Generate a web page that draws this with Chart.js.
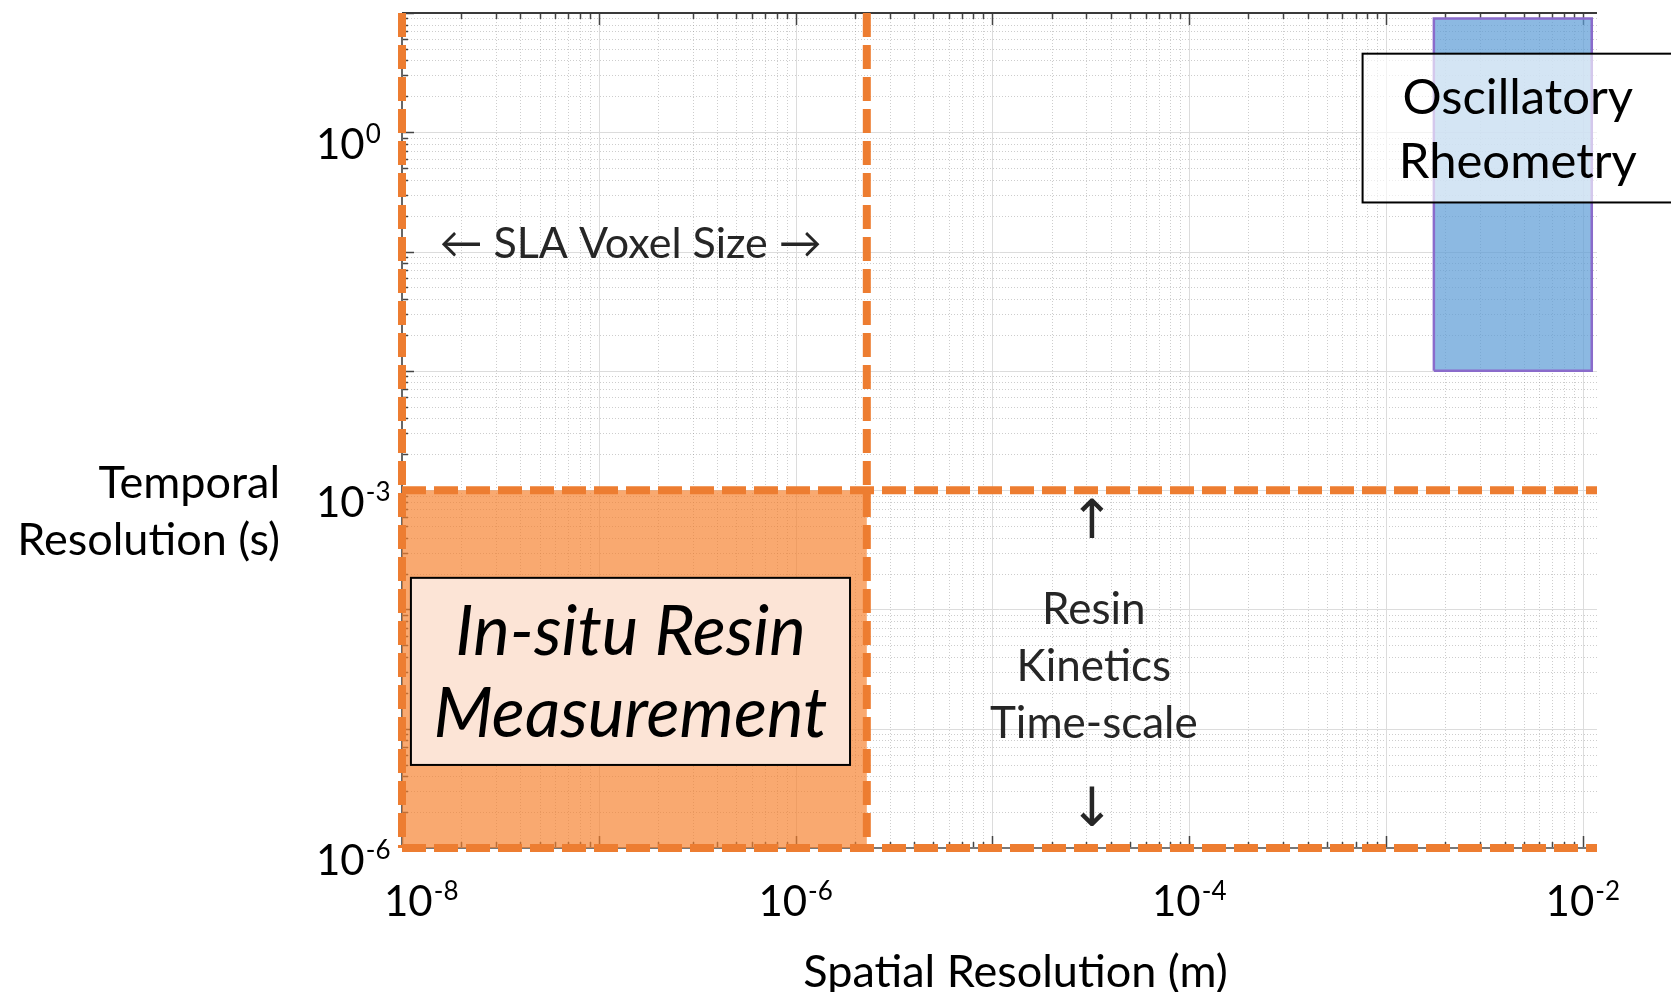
<!DOCTYPE html>
<html>
<head>
<meta charset="utf-8">
<title>Spatial vs temporal resolution</title>
<script src="https://cdn.jsdelivr.net/npm/chart.js@4.4.1/dist/chart.umd.min.js"></script>
<style>
  html, body { margin: 0; padding: 0; background: #fff; overflow: hidden; }
  #wrap { width: 1671px; height: 992px; position: relative; }
</style>
</head>
<body>
<div id="wrap"><canvas id="resChart" width="1671" height="992"></canvas></div>
<script>
// axis ranges (log scales)
const xRange = [1e-8, 0.0118];
const yRange = [1e-6, 10];

// grid decades and the in-between multipliers for the dotted minor grid
const xDecades = [1e-8, 1e-7, 1e-6, 1e-5, 1e-4, 1e-3, 1e-2];
const yDecades = [1e-6, 1e-5, 1e-4, 1e-3, 1e-2, 1e-1, 1e0, 1e1];
const minorSteps = [2, 3, 4, 5, 6, 7, 8, 9];

// labelled ticks
const xTickValues = [1e-8, 1e-6, 1e-4, 1e-2];
const xTickExponents = ['-8', '-6', '-4', '-2'];
const yTickValues = [1e0, 1e-3, 1e-6];
const yTickExponents = ['0', '-3', '-6'];

// regions
const insituX = [1e-8, 2.3e-6];
const insituY = [1e-6, 1e-3];
const rheoX = [1.75e-3, 0.0111];
const rheoY = [0.01, 9];

// dashed limits
const voxelLimits = [1e-8, 2.3e-6];     // vertical lines (m)
const kineticsLimits = [1e-3, 1e-6];    // horizontal lines (s)

// texts
const xTitle = 'Spatial Resolution (m)';
const yTitle = ['Temporal', 'Resolution (s)'];
const voxelText = '\u2190 SLA Voxel Size \u2192';
const kineticsText = ['Resin', 'Kinetics', 'Time-scale'];
const insituText = ['In-situ Resin', 'Measurement'];
const rheoText = ['Oscillatory', 'Rheometry'];

const ORANGE = '#ED7D31';
const FONT = 'Lato, "Open Sans", sans-serif';

function rect(xs, ys) {
  return [
    {x: xs[0], y: ys[0]}, {x: xs[1], y: ys[0]},
    {x: xs[1], y: ys[1]}, {x: xs[0], y: ys[1]}, {x: xs[0], y: ys[0]}
  ];
}

const datasets = [];
voxelLimits.forEach(v => datasets.push({
  data: [{x: v, y: yRange[1]}, {x: v, y: yRange[0]}],
  borderColor: ORANGE, borderWidth: 8, borderDash: [24, 8],
  pointRadius: 0, showLine: true, fill: false, clip: false, order: 1
}));
kineticsLimits.forEach(h => datasets.push({
  data: [{x: xRange[0], y: h}, {x: xRange[1], y: h}],
  borderColor: ORANGE, borderWidth: 8, borderDash: [24, 8],
  pointRadius: 0, showLine: true, fill: false, clip: false, order: 1
}));
datasets.push({
  data: rect(rheoX, rheoY),
  borderColor: '#8a6bcb', borderWidth: 2.5,
  backgroundColor: 'rgba(91,155,213,0.7)',
  pointRadius: 0, showLine: true, fill: 'shape', order: 2
});
datasets.push({
  data: rect(insituX, insituY),
  borderColor: 'rgba(0,0,0,0)', borderWidth: 1,
  backgroundColor: 'rgba(246,128,44,0.68)',
  pointRadius: 0, showLine: true, fill: 'shape', order: 3
});

// grid, axes and inward tick marks (drawn under the data)
const gridPlugin = {
  id: 'gridPlugin',
  beforeDatasetsDraw(chart) {
    const {ctx, chartArea: a, scales: {x, y}} = chart;
    ctx.save();
    ctx.lineWidth = 1;
    // minor dotted grid
    ctx.setLineDash([1, 2]);
    ctx.strokeStyle = 'rgba(130,130,130,0.4)';
    xDecades.forEach(d => minorSteps.forEach(m => {
      const v = d * m;
      if (v <= xRange[0] || v >= xRange[1]) return;
      const px = Math.round(x.getPixelForValue(v)) + 0.5;
      ctx.beginPath(); ctx.moveTo(px, a.top); ctx.lineTo(px, a.bottom); ctx.stroke();
    }));
    yDecades.forEach(d => minorSteps.forEach(m => {
      const v = d * m;
      if (v <= yRange[0] || v >= yRange[1]) return;
      const py = Math.round(y.getPixelForValue(v)) + 0.5;
      ctx.beginPath(); ctx.moveTo(a.left, py); ctx.lineTo(a.right, py); ctx.stroke();
    }));
    // major solid grid
    ctx.setLineDash([]);
    ctx.strokeStyle = '#dcdcdc';
    xDecades.forEach(v => {
      const px = Math.round(x.getPixelForValue(v)) + 0.5;
      ctx.beginPath(); ctx.moveTo(px, a.top); ctx.lineTo(px, a.bottom); ctx.stroke();
    });
    yDecades.forEach(v => {
      const py = Math.round(y.getPixelForValue(v)) + 0.5;
      ctx.beginPath(); ctx.moveTo(a.left, py); ctx.lineTo(a.right, py); ctx.stroke();
    });
    // inward ticks
    ctx.strokeStyle = '#444';
    ctx.lineWidth = 1.5;
    xDecades.forEach(d => [1].concat(minorSteps).forEach(m => {
      const v = d * m;
      if (v < xRange[0] || v > xRange[1]) return;
      const px = Math.round(x.getPixelForValue(v)) + 0.5;
      const len = m === 1 ? 12 : 6;
      ctx.beginPath(); ctx.moveTo(px, a.top); ctx.lineTo(px, a.top + len); ctx.stroke();
      ctx.beginPath(); ctx.moveTo(px, a.bottom); ctx.lineTo(px, a.bottom - len); ctx.stroke();
    }));
    yDecades.forEach(d => [1].concat(minorSteps).forEach(m => {
      const v = d * m;
      if (v < yRange[0] || v > yRange[1]) return;
      const py = Math.round(y.getPixelForValue(v)) + 0.5;
      const len = m === 1 ? 12 : 6;
      ctx.beginPath(); ctx.moveTo(a.left, py); ctx.lineTo(a.left + len, py); ctx.stroke();
    }));
    // axis lines
    ctx.lineWidth = 2;
    ctx.strokeStyle = '#3a3a3a';
    ctx.beginPath(); ctx.moveTo(a.left, a.top); ctx.lineTo(a.right, a.top); ctx.stroke();
    ctx.strokeStyle = '#666';
    ctx.beginPath(); ctx.moveTo(a.left, a.top); ctx.lineTo(a.left, a.bottom); ctx.stroke();
    ctx.strokeStyle = '#777';
    ctx.beginPath(); ctx.moveTo(a.left, a.bottom); ctx.lineTo(a.right, a.bottom); ctx.stroke();
    ctx.restore();
  }
};

function drawPow(ctx, exp, left, midY) {
  ctx.textAlign = 'left';
  ctx.textBaseline = 'alphabetic';
  ctx.font = '42px ' + FONT;
  const wb = ctx.measureText('10').width;
  ctx.fillText('10', left, midY + 15);
  ctx.font = '26px ' + FONT;
  ctx.fillText(exp, left + wb + 1, midY - 1);
}
function powWidth(ctx, exp) {
  ctx.font = '42px ' + FONT;
  const wb = ctx.measureText('10').width;
  ctx.font = '26px ' + FONT;
  return wb + 1 + ctx.measureText(exp).width;
}

function textBox(ctx, x0, y0, x1, y1, fill) {
  ctx.fillStyle = fill;
  ctx.fillRect(x0, y0, x1 - x0, y1 - y0);
  ctx.strokeStyle = '#000';
  ctx.lineWidth = 2;
  ctx.strokeRect(x0, y0, x1 - x0, y1 - y0);
}

// labels and callouts (drawn on top of the data)
const labelPlugin = {
  id: 'labelPlugin',
  afterDatasetsDraw(chart) {
    const {ctx, chartArea: a, scales: {x, y}} = chart;
    ctx.save();

    // SLA voxel size
    ctx.fillStyle = '#262626';
    ctx.font = '43px ' + FONT;
    ctx.textAlign = 'center';
    ctx.textBaseline = 'middle';
    ctx.fillText(voxelText, x.getPixelForValue(1.45e-7), y.getPixelForValue(0.115));

    // resin kinetics
    const kx = x.getPixelForValue(3.2e-5);
    ctx.font = '44px ' + FONT;
    const ky = y.getPixelForValue(3.3e-5);
    kineticsText.forEach((t, i) => ctx.fillText(t, kx + 2, ky + (i - 1) * 57));
    ctx.font = '54px "DejaVu Sans", sans-serif';
    ctx.fillText('\u2191', kx, y.getPixelForValue(5.2e-4));
    ctx.fillText('\u2193', kx, y.getPixelForValue(2.0e-6));

    // in-situ box
    const b0 = x.getPixelForValue(1.11e-8), b1 = x.getPixelForValue(1.89e-6);
    const bt = y.getPixelForValue(1.84e-4), bb = y.getPixelForValue(4.97e-6);
    textBox(ctx, b0, bt, b1, bb, '#fce4d6');
    ctx.fillStyle = '#000';
    ctx.font = 'italic 69px ' + FONT;
    insituText.forEach((t, i) => ctx.fillText(t, (b0 + b1) / 2, (bt + bb) / 2 + (i - 0.5) * 82 + 2));

    // rheometry box
    const r0 = x.getPixelForValue(7.6e-4), r1 = x.getPixelForValue(0.06);
    const rt = y.getPixelForValue(4.56), rb = y.getPixelForValue(0.258);
    textBox(ctx, r0, rt, r1, rb, 'rgba(255,255,255,0.63)');
    ctx.fillStyle = '#000';
    ctx.font = '49px ' + FONT;
    rheoText.forEach((t, i) => ctx.fillText(t, x.getPixelForValue(4.67e-3), (rt + rb) / 2 + (i - 0.5) * 64 + 2));
    ctx.restore();
  },
  afterDraw(chart) {
    const {ctx, chartArea: a, scales: {x, y}} = chart;
    ctx.save();
    ctx.fillStyle = '#000';
    // tick labels with superscript exponents
    xTickValues.forEach((v, i) => {
      const w = powWidth(ctx, xTickExponents[i]);
      const left = Math.max(x.getPixelForValue(v) - w / 2, a.left - 18);
      drawPow(ctx, xTickExponents[i], left, a.bottom + 53);
    });
    yTickValues.forEach((v, i) => {
      drawPow(ctx, yTickExponents[i], a.left - 86, y.getPixelForValue(v) + 12);
    });
    // axis titles
    ctx.font = '45px ' + FONT;
    ctx.textBaseline = 'middle';
    ctx.textAlign = 'center';
    ctx.fillText(xTitle, (a.left + a.right) / 2 + 16, a.bottom + 124);
    ctx.textAlign = 'right';
    ctx.fillText(yTitle[0], a.left - 122, y.getPixelForValue(1e-3) - 7);
    ctx.fillText(yTitle[1], a.left - 122, y.getPixelForValue(1e-3) + 50);
    ctx.restore();
  }
};

new Chart(document.getElementById('resChart'), {
  type: 'scatter',
  data: {datasets},
  options: {
    responsive: false,
    animation: false,
    devicePixelRatio: 1,
    layout: {padding: {left: 402, right: 74, top: 13, bottom: 144}},
    elements: {line: {tension: 0}},
    plugins: {legend: {display: false}, tooltip: {enabled: false}},
    scales: {
      x: {type: 'logarithmic', min: xRange[0], max: xRange[1], display: false},
      y: {type: 'logarithmic', min: yRange[0], max: yRange[1], display: false}
    }
  },
  plugins: [gridPlugin, labelPlugin]
});
</script>
</body>
</html>
